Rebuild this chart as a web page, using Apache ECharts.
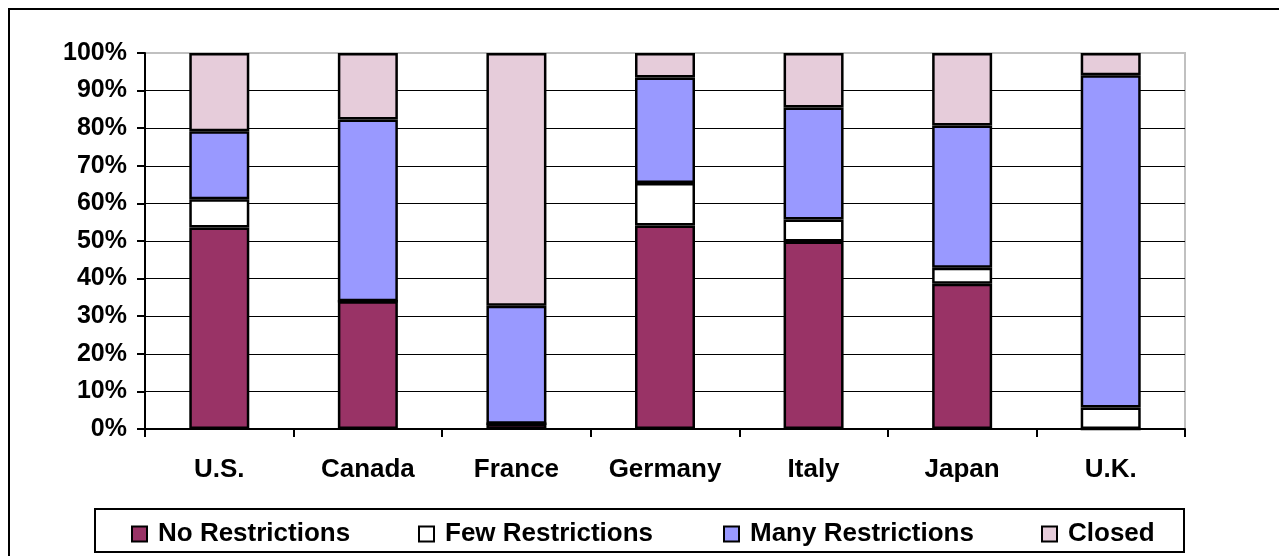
<!DOCTYPE html>
<html>
<head>
<meta charset="utf-8">
<script src="https://cdn.jsdelivr.net/npm/echarts@6/dist/echarts.min.js"></script>
<style>html,body{margin:0;padding:0;background:#fff;}#c{width:1279px;height:556px;}</style>
</head>
<body>
<div id="c"></div>
<script>
var categories = ['U.S.', 'Canada', 'France', 'Germany', 'Italy', 'Japan', 'U.K.'];
var noRestrictions   = [53.6, 34.0, 1.4, 54.1, 49.9, 38.6, 0];
var fewRestrictions  = [7.5, 0, 0, 11.3, 5.8, 4.3, 5.7];
var manyRestrictions = [18.1, 48.3, 31.4, 28.1, 29.8, 37.8, 88.4];
var closedValues     = [20.8, 17.7, 67.2, 6.5, 14.5, 19.3, 5.9];
var seriesNames = ['No Restrictions', 'Few Restrictions', 'Many Restrictions', 'Closed'];
var seriesColors = ['#993366', '#ffffff', '#9999ff', '#e6ccda'];
var seriesData = [noRestrictions, fewRestrictions, manyRestrictions, closedValues];

var FONT = "'Liberation Sans', Arial, sans-serif";
var chart = echarts.init(document.getElementById('c'), null, {renderer: 'canvas'});

var legendLefts = [131, 418, 723, 1041];
var legends = seriesNames.map(function (n, i) {
  return {
    data: [n], left: legendLefts[i], top: 521, padding: 0,
    itemWidth: 15, itemHeight: 15, icon: 'rect', selectedMode: false,
    itemStyle: {borderColor: '#000', borderWidth: 2},
    textStyle: {fontFamily: FONT, fontWeight: 'bold', fontSize: 26, color: '#000', padding: [0, 0, 0, 6]}
  };
});

var splitColors = [];
for (var k = 0; k < 10; k++) splitColors.push('#000');
splitColors.push('#c0c0c0');

chart.setOption({
  animation: false,
  backgroundColor: '#fff',
  graphic: [
    {type: 'rect', shape: {x: 9, y: 9, width: 1400, height: 700}, style: {fill: 'none', stroke: '#000', lineWidth: 2}, z: 0},
    {type: 'rect', shape: {x: 95, y: 509, width: 1089, height: 43}, style: {fill: 'none', stroke: '#000', lineWidth: 2}, z: 0}
  ],
  legend: legends,
  grid: {left: 145, right: 94, top: 53, bottom: 127, show: true, borderColor: '#c0c0c0', borderWidth: 2, backgroundColor: 'transparent'},
  xAxis: {
    type: 'category', data: categories, boundaryGap: true,
    axisLine: {lineStyle: {color: '#000', width: 2}},
    axisTick: {show: true, length: 8, lineStyle: {color: '#000', width: 2}},
    axisLabel: {margin: 28, color: '#000', fontFamily: FONT, fontWeight: 'bold', fontSize: 26}
  },
  yAxis: {
    type: 'value', min: 0, max: 100, interval: 10,
    axisLine: {show: true, lineStyle: {color: '#000', width: 2}},
    axisTick: {show: true, length: 8, lineStyle: {color: '#000', width: 2}},
    splitLine: {show: true, lineStyle: {color: splitColors, width: 1}},
    axisLabel: {margin: 18, color: '#000', fontFamily: FONT, fontWeight: 'bold', fontSize: 25, formatter: '{value}%'}
  },
  series: seriesNames.map(function (n, i) {
    return {
      name: n, type: 'bar', stack: 'total', barWidth: 60,
      data: seriesData[i],
      itemStyle: {color: seriesColors[i], borderColor: '#000', borderWidth: 2.5}
    };
  })
});
</script>
</body>
</html>
